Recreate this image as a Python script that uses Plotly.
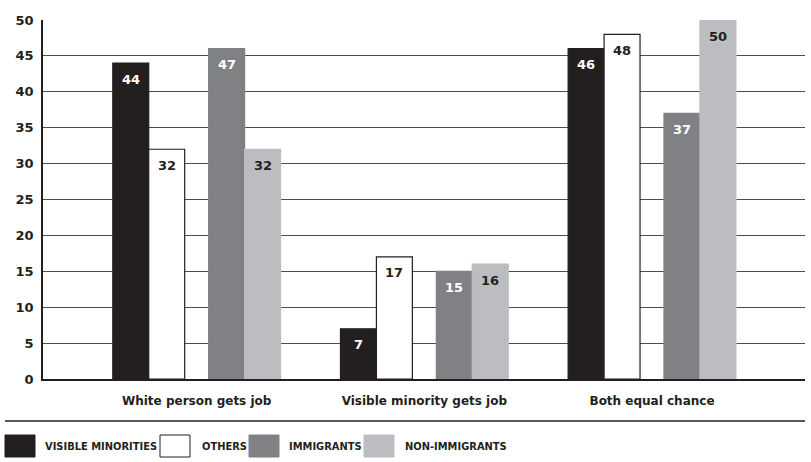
import plotly.graph_objects as go

categories = ["White person gets job", "Visible minority gets job", "Both equal chance"]
series_names = ["VISIBLE MINORITIES", "OTHERS", "IMMIGRANTS", "NON-IMMIGRANTS"]
visible_minorities = [44, 7, 46]
others = [32, 17, 48]
immigrants = [46, 15, 37]
non_immigrants = [32, 16, 50]
visible_minorities_labels = ["44", "7", "46"]
others_labels = ["32", "17", "48"]
immigrants_labels = ["47", "15", "37"]
non_immigrants_labels = ["32", "16", "50"]
y_ticks = [0, 5, 10, 15, 20, 25, 30, 35, 40, 45, 50]

W, H = 811, 462
L, R, T, B = 43, 6, 20, 83
PW, PH = W - L - R, H - T - B

def px_x(p):
    return (p - L) / PW

def px_y(p):
    return (H - B - p) / PH

colors = ["#231f20", "#ffffff", "#808184", "#bcbdc0"]
line_colors = ["#231f20", "#231f20", "#808184", "#bcbdc0"]
text_colors = ["#ffffff", "#231f20", "#ffffff", "#231f20"]
unit = 228.0
offsets = [-84 / unit, -48 / unit, 12 / unit, 48 / unit]
width = 36 / unit

values = [visible_minorities, others, immigrants, non_immigrants]
labels = [visible_minorities_labels, others_labels, immigrants_labels, non_immigrants_labels]

FONT = "DejaVu Sans"
LEGFONT = "DejaVu Sans Condensed, Liberation Sans Narrow, DejaVu Sans"
fig = go.Figure()
for i in range(4):
    fig.add_trace(go.Bar(
        x=categories, y=values[i], name=series_names[i],
        marker=dict(color=colors[i], line=dict(color=line_colors[i], width=1.2)),
        offset=offsets[i], width=width, showlegend=False,
        hoverinfo="skip",
    ))
    for c, v, t in zip(categories, values[i], labels[i]):
        fig.add_annotation(
            x=c, y=v, xref="x", yref="y", text=t, showarrow=False,
            xanchor="center", yanchor="middle",
            xshift=(offsets[i] + width / 2) * unit, yshift=-16,
            font=dict(family=FONT, size=13, color=text_colors[i], weight="bold"),
        )

fig.update_layout(
    width=W, height=H, margin=dict(l=L, r=R, t=T, b=B, autoexpand=False),
    barmode="overlay", plot_bgcolor="white", paper_bgcolor="white",
    font=dict(family=FONT, color="#231f20"),
)
fig.update_xaxes(
    range=[-0.675, 2.672], showgrid=False, showline=True, linecolor="#231f20", linewidth=1.5,
    ticks="", tickfont=dict(family=FONT, size=12, color="#231f20", weight="bold"),
    ticklabelstandoff=10, automargin=False,
)
fig.update_yaxes(
    range=[0, 50], tickvals=y_ticks, showgrid=True, gridcolor="#4d4d4f", gridwidth=1,
    showline=True, linecolor="#231f20", linewidth=1.5, zeroline=False,
    tickfont=dict(family=FONT, size=13, color="#231f20", weight="bold"),
    ticks="", ticklabelstandoff=5, automargin=False,
)

# separator line
fig.add_shape(type="line", xref="paper", yref="paper", x0=px_x(5), x1=px_x(805),
              y0=px_y(421), y1=px_y(421), line=dict(color="#231f20", width=1.5))

# custom legend
box_x = [5, 160, 249, 364]
text_x = [43, 200, 287, 403]
for i in range(4):
    fig.add_shape(type="rect", xref="paper", yref="paper",
                  x0=px_x(box_x[i]), x1=px_x(box_x[i] + 30),
                  y0=px_y(457), y1=px_y(435),
                  fillcolor=colors[i], line=dict(color=line_colors[i], width=1))
    fig.add_annotation(xref="paper", yref="paper", x=px_x(text_x[i]), y=px_y(446),
                       xanchor="left", yanchor="middle", showarrow=False,
                       text=series_names[i],
                       font=dict(family=LEGFONT, size=11, color="#231f20", weight="bold"))

fig.write_html("out.html", config={"displayModeBar": False},
               post_script="document.body.style.margin='0';")
